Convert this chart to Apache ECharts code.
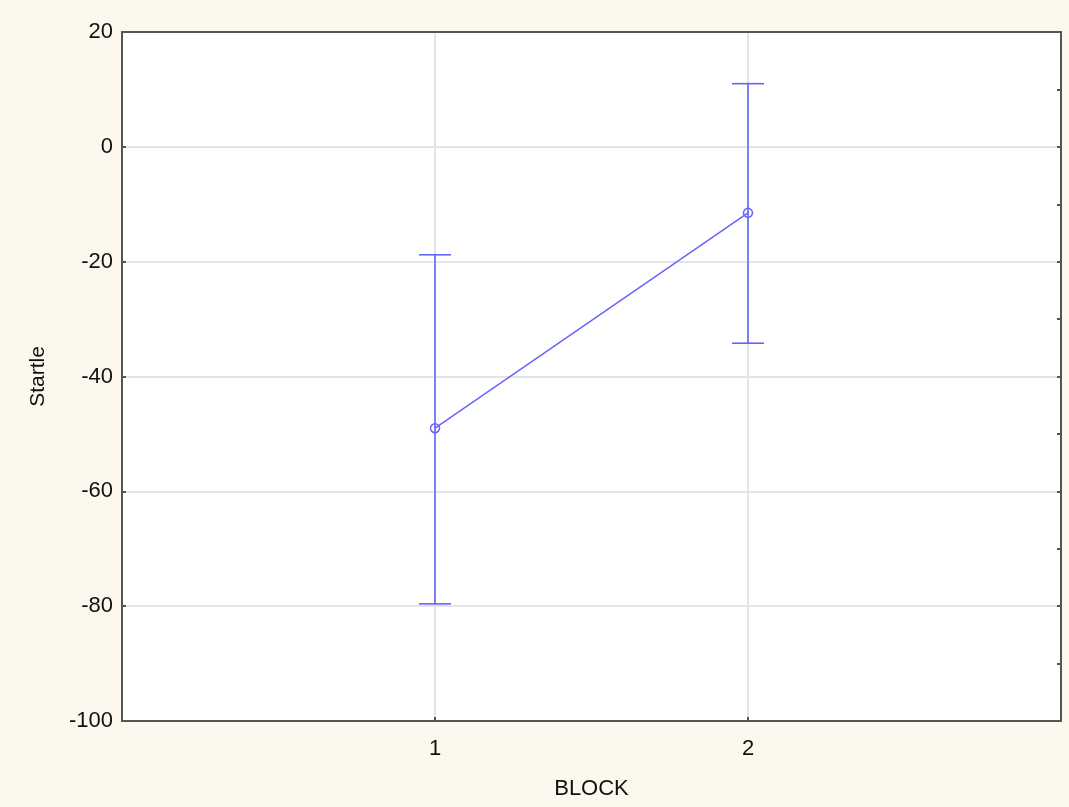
<!DOCTYPE html>
<html>
<head>
<meta charset="utf-8">
<script src="https://cdn.jsdelivr.net/npm/echarts@6/dist/echarts.min.js"></script>
<style>
  html, body { margin: 0; padding: 0; background: #fcf8ee; }
  #chart { width: 1069px; height: 807px; }
</style>
</head>
<body>
<div id="chart"></div>
<script>
// Startle means per block with upper/lower interval limits
const blocks = [1, 2];
const means = [-49.0, -11.5];
const upper = [-18.8, 11.0];
const lower = [-79.6, -34.2];
const yTicks = [-100, -80, -60, -40, -20, 0, 20];

const lineColor = '#6464ff';
const axisColor = '#555555';
const font = 'Liberation Sans, Arial, sans-serif';

const chart = echarts.init(document.getElementById('chart'));

const errData = blocks.map((b, i) => [b, lower[i], upper[i]]);
const frameLine = { show: true, onZero: false, lineStyle: { color: axisColor, width: 2 } };

chart.setOption({
  backgroundColor: '#fcf8ee',
  animation: false,
  grid: {
    left: 122, right: 8, top: 32, bottom: 86,
    show: true, backgroundColor: '#ffffff', borderWidth: 0
  },
  xAxis: [{
    type: 'value', min: 0, max: 3, interval: 1,
    position: 'bottom',
    name: 'BLOCK', nameLocation: 'middle', nameGap: 57,
    nameTextStyle: { color: '#111', fontSize: 22, fontFamily: font },
    axisLine: frameLine,
    axisTick: { show: true, inside: true, length: 4, lineStyle: { color: axisColor, width: 2 } },
    axisLabel: {
      color: '#111', fontSize: 22, fontFamily: font, margin: 17,
      formatter: v => blocks.includes(v) ? String(v) : ''
    },
    splitLine: { show: true, lineStyle: { color: '#e4e4e4', width: 2 } }
  }, {
    type: 'value', min: 0, max: 3, interval: 1,
    position: 'top',
    axisLine: frameLine,
    axisTick: { show: false },
    axisLabel: { show: false },
    splitLine: { show: false }
  }],
  yAxis: [{
    type: 'value', min: yTicks[0], max: yTicks[yTicks.length - 1], interval: 20,
    position: 'left',
    name: 'Startle', nameLocation: 'middle', nameGap: 73,
    nameTextStyle: { color: '#111', fontSize: 21, fontFamily: font },
    axisLine: frameLine,
    axisTick: { show: true, inside: true, length: 4, lineStyle: { color: axisColor, width: 2 } },
    axisLabel: { color: '#111', fontSize: 22, fontFamily: font, margin: 9 },
    splitLine: { show: true, lineStyle: { color: '#e4e4e4', width: 2 } }
  }, {
    type: 'value', min: yTicks[0], max: yTicks[yTicks.length - 1], interval: 10,
    position: 'right',
    axisLine: frameLine,
    axisTick: { show: true, inside: true, length: 4, lineStyle: { color: axisColor, width: 2 } },
    axisLabel: { show: false },
    splitLine: { show: false }
  }],
  series: [{
    type: 'custom',
    yAxisIndex: 0,
    data: errData,
    renderItem: function (params, api) {
      const x = api.value(0);
      const lo = api.coord([x, api.value(1)]);
      const hi = api.coord([x, api.value(2)]);
      const half = 16;
      const style = { stroke: lineColor, lineWidth: 1.6, fill: null };
      return {
        type: 'group',
        children: [
          { type: 'line', shape: { x1: lo[0], y1: lo[1], x2: hi[0], y2: hi[1] }, style },
          { type: 'line', shape: { x1: hi[0] - half, y1: hi[1], x2: hi[0] + half, y2: hi[1] }, style },
          { type: 'line', shape: { x1: lo[0] - half, y1: lo[1], x2: lo[0] + half, y2: lo[1] }, style }
        ]
      };
    },
    z: 3
  }, {
    type: 'line',
    yAxisIndex: 0,
    data: blocks.map((b, i) => [b, means[i]]),
    symbol: 'circle',
    symbolSize: 9,
    lineStyle: { color: lineColor, width: 1.5 },
    itemStyle: { color: 'rgba(255,255,255,0)', borderColor: lineColor, borderWidth: 1.5 },
    z: 4
  }]
});
</script>
</body>
</html>
